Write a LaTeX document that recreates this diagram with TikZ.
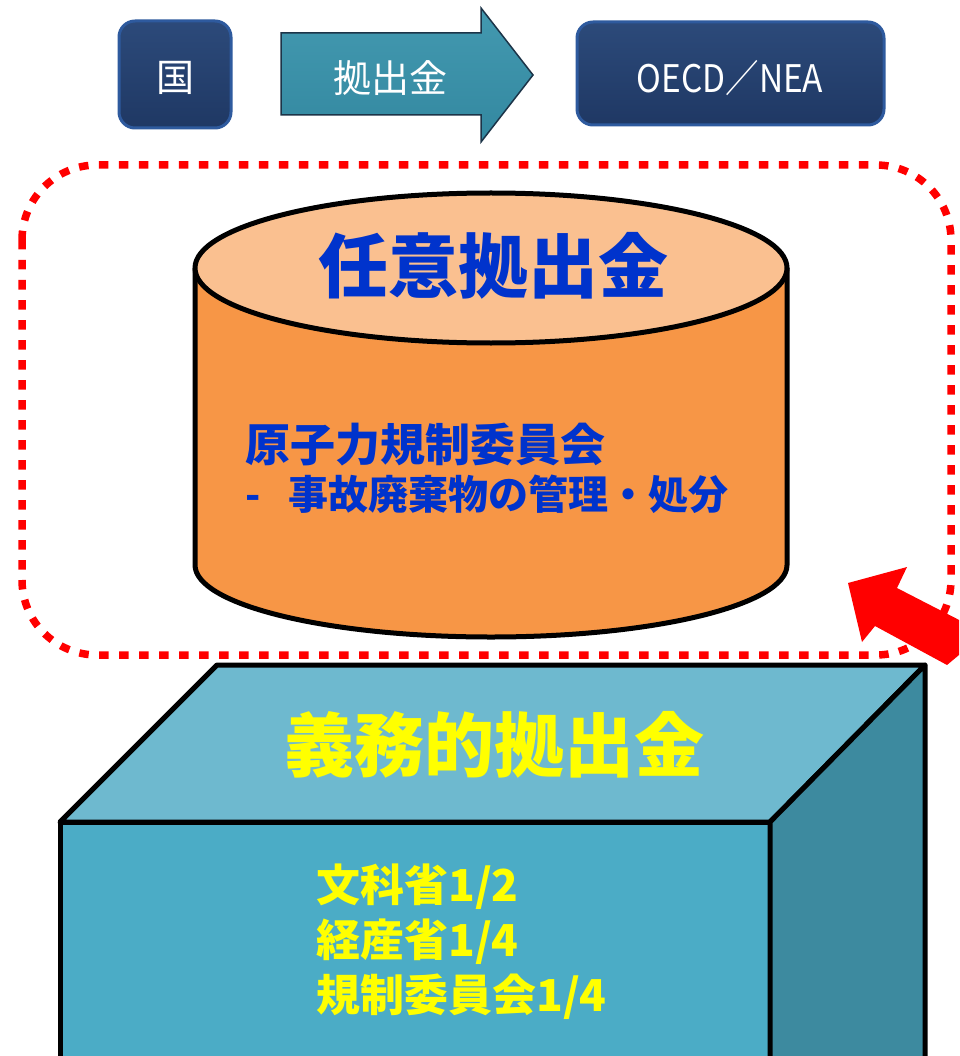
\documentclass[tikz,border=0pt]{standalone}
\usepackage{fontspec}
\newfontfamily\jp{Noto Sans CJK JP}
\definecolor{navy}{HTML}{1F3864}
\definecolor{navylight}{HTML}{2C4A7A}
\definecolor{navyedge}{HTML}{2E5A9E}
\definecolor{teal1}{HTML}{3388A0}
\definecolor{teallight}{HTML}{4399B0}
\definecolor{tealedge}{HTML}{1C3448}
\definecolor{cylside}{HTML}{F79646}
\definecolor{cyltop}{HTML}{FAC090}
\definecolor{jblue}{HTML}{0033CC}
\definecolor{boxtop}{HTML}{6EB9CF}
\definecolor{boxfront}{HTML}{4BACC6}
\definecolor{boxright}{HTML}{3D8A9F}
\definecolor{jyellow}{HTML}{FFFF00}
\tikzset{
  topbox/.style={top color=navylight, bottom color=navy, draw=navyedge, line width=3pt, rounded corners=16pt},
  toptext/.style={text=white, font=\jp\fontsize{38}{44}\selectfont, inner sep=0pt},
  bluetext/.style={text=jblue, inner sep=0pt, anchor=base west, font=\jp\bfseries\fontsize{45}{50}\selectfont},
  yeltext/.style={text=jyellow, inner sep=0pt, anchor=base west, font=\jp\bfseries\fontsize{44}{50}\selectfont},
  solidedge/.style={draw=black, line width=5pt, line join=round},
}
\begin{document}
\begin{tikzpicture}[x=1pt,y=-1pt]
\clip (0,0) rectangle (959,1056);
\fill[white] (0,0) rectangle (959,1056);
% top row
\draw[topbox] (119,21) rectangle (231,128);
\node[toptext] (kuni) at (175,78) {国};
\draw[top color=teallight, bottom color=teal1, draw=tealedge, line width=1.5pt, line join=miter]
  (281,33) -- (481,33) -- (481,8) -- (533,75) -- (481,142) -- (481,115) -- (281,115) -- cycle;
\node[toptext] (kyoshutsu) at (390,78) {拠出金};
\draw[topbox] (577,22) rectangle (884,125);
\node[toptext, xscale=0.88] (oecd) at (730,78) {OECD／NEA};
% dotted red frame
\draw[red, line width=7.5pt, dash pattern=on 9.5pt off 10.5pt, rounded corners=75pt] (22,165) rectangle (951,655);
% cylinder
\fill[cylside] (195,268) -- (195,565) arc[start angle=180, end angle=360, x radius=296pt, y radius=72pt] -- (787,268) -- cycle;
\draw[solidedge] (195,268) -- (195,565) arc[start angle=180, end angle=360, x radius=296pt, y radius=72pt] -- (787,268);
\draw[solidedge, fill=cyltop] (491,268) ellipse[x radius=296pt, y radius=75pt];
\node[text=jblue, inner sep=0pt, font=\jp\bfseries\fontsize{70}{76}\selectfont] (nini) at (493,266) {任意拠出金};
\node[bluetext] (nra) at (245,461) {原子力規制委員会};
\node[bluetext, font=\jp\bfseries\fontsize{40}{46}\selectfont] (jiko) at (245,509) {-\hspace{0.7em}事故廃棄物の管理・処分};
% box
\draw[solidedge, fill=boxtop] (217,665) -- (925,665) -- (770,822) -- (60,822) -- cycle;
\draw[solidedge, fill=boxfront] (60,822) rectangle (770,1075);
\draw[solidedge, fill=boxright] (770,822) -- (925,665) -- (925,1075) -- (770,1075) -- cycle;
\node[text=jyellow, inner sep=0pt, font=\jp\bfseries\fontsize{70}{76}\selectfont] (gimu) at (494,745) {義務的拠出金};
\node[yeltext] (monka) at (316,901) {文科省1/2};
\node[yeltext] (keisan) at (316,956) {経産省1/4};
\node[yeltext] (kisei) at (316,1011) {規制委員会1/4};
% red arrow
\fill[red] (848,583) -- (907,567) -- (897,588) -- (965,623) -- (965,650) -- (947,665) -- (875,626) -- (862,642) -- cycle;
\end{tikzpicture}
\end{document}
